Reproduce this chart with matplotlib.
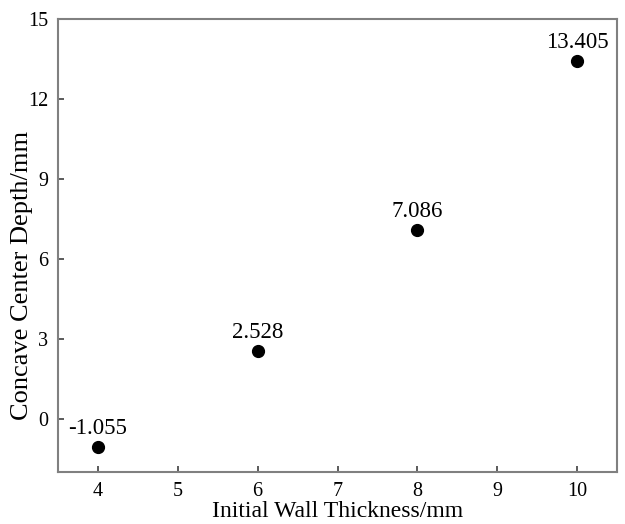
import numpy as np
import matplotlib.pyplot as plt

# datos
espesor = [4, 6, 8, 10]
profundidad = [-1.055, 2.528, 7.086, 13.405]
etiquetas = ["-1.055", "2.528", "7.086", "13.405"]

plt.rcParams["font.family"] = ["Liberation Serif", "DejaVu Serif"]

fig = plt.figure(figsize=(6.25, 5.24), dpi=100)
ax = fig.add_axes([0.093, 0.099, 0.894, 0.865])

ax.plot(espesor, profundidad, "o", color="black", markersize=8.5)
for x, y, t in zip(espesor, profundidad, etiquetas):
    ax.annotate(t, (x, y), xytext=(0, 6), textcoords="offset points",
                ha="center", va="bottom", fontsize=16.5)

ax.set_xlim(3.5, 10.5)
ax.set_ylim(-2, 15)
ax.set_xticks([4, 5, 6, 7, 8, 9, 10])
ax.set_yticks([0, 3, 6, 9, 12, 15])
ax.set_xlabel("Initial Wall Thickness/mm", fontsize=17, labelpad=0)
ax.set_ylabel("Concave Center Depth/mm", fontsize=19)
ax.yaxis.set_label_coords(-0.045, 0.435)

for s in ax.spines.values():
    s.set_color("#808080")
    s.set_linewidth(1.5)
ax.tick_params(direction="in", length=4, width=1.2, color="#404040",
               labelsize=14.5, top=False, right=False)
ax.tick_params(axis="x", pad=7)
ax.tick_params(axis="y", pad=7)

fig.savefig("out.png", dpi=100)
